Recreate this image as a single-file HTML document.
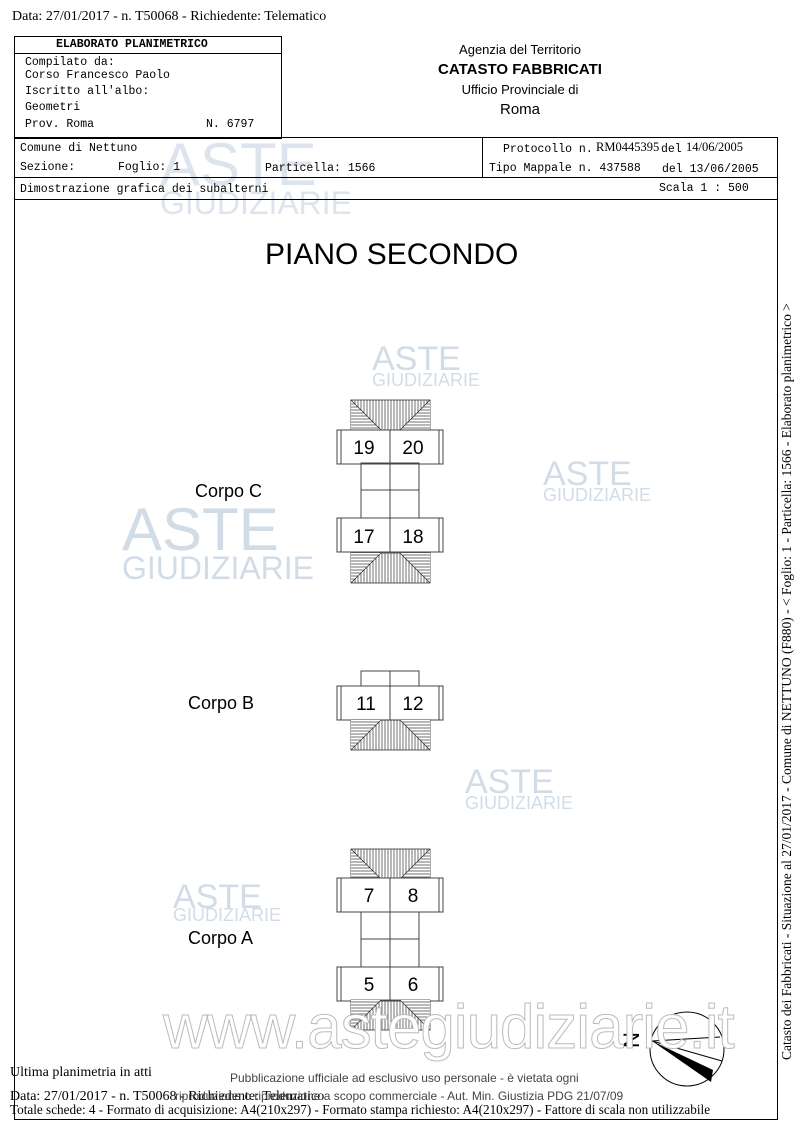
<!DOCTYPE html>
<html><head><meta charset="utf-8"><style>
body{margin:0;background:#fff;}
.p{position:relative;width:800px;height:1133px;overflow:hidden;font-family:"Liberation Serif",serif;color:#000;}
.a{position:absolute;white-space:nowrap;}
.m{font-family:"Liberation Mono",monospace;font-size:11.5px;}
.s{font-family:"Liberation Sans",sans-serif;}
.b{position:absolute;border:1.5px solid #000;box-sizing:border-box;}
.w{font-family:"Liberation Sans",sans-serif;color:#b5c5d8;opacity:.6;position:absolute;white-space:nowrap;}
</style></head><body><div class="p">
<div class="a" style="left:12px;top:9px;font-size:14px;">Data: 27/01/2017 - n. T50068 - Richiedente: Telematico</div>

<div class="w" style="left:160px;top:130px;font-size:60px;opacity:.45">ASTE</div>
<div class="w" style="left:160px;top:185px;font-size:32px;opacity:.45">GIUDIZIARIE</div>

<div class="b" style="left:14px;top:36px;width:268px;height:103px;"></div>
<div class="b" style="left:14px;top:36px;width:268px;height:18px;border-width:0 0 1.5px 0;"></div>
<div class="a m" style="left:56px;top:38px;font-weight:bold;">ELABORATO PLANIMETRICO</div>
<div class="a m" style="left:25px;top:56px;line-height:13px;">Compilato da:<br>Corso Francesco Paolo</div>
<div class="a m" style="left:25px;top:84px;line-height:16px;">Iscritto all'albo:<br>Geometri</div>
<div class="a m" style="left:25px;top:118px;">Prov. Roma</div>
<div class="a m" style="left:206px;top:118px;">N.  6797</div>

<div class="a s" style="left:400px;top:40px;width:240px;text-align:center;font-size:13px;line-height:20px;">Agenzia del Territorio<br><b style="font-size:15px">CATASTO FABBRICATI</b><br>Ufficio Provinciale di<br><span style="font-size:15px">Roma</span></div>

<div class="b" style="left:14px;top:137px;width:764px;height:983px;"></div>
<div style="position:absolute;left:14px;top:177px;width:764px;border-top:1.5px solid #000"></div>
<div style="position:absolute;left:14px;top:199px;width:764px;border-top:1.5px solid #000"></div>
<div style="position:absolute;left:482px;top:137px;height:41px;border-left:1.5px solid #000"></div>
<div class="a m" style="left:20px;top:142px;">Comune di Nettuno</div>
<div class="a m" style="left:20px;top:161px;">Sezione:</div>
<div class="a m" style="left:118px;top:161px;">Foglio: 1</div>
<div class="a m" style="left:265px;top:162px;">Particella: 1566</div>
<div class="a m" style="left:503px;top:143px;">Protocollo n.</div>
<div class="a" style="left:596px;top:140px;font-size:12.5px;">RM0445395</div>
<div class="a m" style="left:661px;top:143px;">del</div>
<div class="a" style="left:686px;top:140px;font-size:12.5px;">14/06/2005</div>
<div class="a m" style="left:489px;top:162px;">Tipo Mappale n. 437588</div>
<div class="a m" style="left:662px;top:163px;">del 13/06/2005</div>
<div class="a m" style="left:20px;top:183px;">Dimostrazione grafica dei subalterni</div>
<div class="a m" style="left:659px;top:182px;">Scala 1 : 500</div>

<div class="a" style="left:779px;top:1060px;transform:rotate(-90deg);transform-origin:0 0;font-size:13.5px;">Catasto dei Fabbricati - Situazione al 27/01/2017 - Comune di NETTUNO (F880) - &lt; Foglio: 1 - Particella: 1566 - Elaborato planimetrico &gt;</div>

<div class="a s" style="left:265px;top:238px;font-size:30px;">PIANO SECONDO</div>

<div class="w" style="left:372px;top:340px;font-size:34px;">ASTE</div>
<div class="w" style="left:372px;top:370px;font-size:18px;">GIUDIZIARIE</div>
<div class="w" style="left:122px;top:495px;font-size:60px;">ASTE</div>
<div class="w" style="left:122px;top:550px;font-size:32px;">GIUDIZIARIE</div>
<div class="w" style="left:543px;top:455px;font-size:34px;">ASTE</div>
<div class="w" style="left:543px;top:485px;font-size:18px;">GIUDIZIARIE</div>
<div class="w" style="left:465px;top:763px;font-size:34px;">ASTE</div>
<div class="w" style="left:465px;top:793px;font-size:18px;">GIUDIZIARIE</div>
<div class="w" style="left:173px;top:878px;font-size:34px;">ASTE</div>
<div class="w" style="left:173px;top:905px;font-size:18px;">GIUDIZIARIE</div>

<div class="a s" style="left:195px;top:481px;font-size:18px;">Corpo C</div>
<div class="a s" style="left:188px;top:693px;font-size:18px;">Corpo B</div>
<div class="a s" style="left:188px;top:928px;font-size:18px;">Corpo A</div>

<svg class="a" style="left:0;top:0" width="800" height="1133" viewBox="0 0 800 1133">
<defs>
<pattern id="v" width="3" height="3" patternUnits="userSpaceOnUse"><line x1="1" y1="0" x2="1" y2="3" stroke="#333" stroke-width="0.7"/></pattern>
<pattern id="h" width="3" height="3" patternUnits="userSpaceOnUse"><line x1="0" y1="1" x2="3" y2="1" stroke="#333" stroke-width="0.7"/></pattern>
<g id="roof"><rect x="0" y="0" width="79" height="30" fill="url(#v)" stroke="#333" stroke-width="0.8"/><polygon points="0,0 30,30 0,30" fill="#fff"/><polygon points="0,0 30,30 0,30" fill="url(#h)"/><polygon points="79,0 49,30 79,30" fill="#fff"/><polygon points="79,0 49,30 79,30" fill="url(#h)"/><line x1="0" y1="0" x2="30" y2="30" stroke="#333" stroke-width="0.8"/><line x1="79" y1="0" x2="49" y2="30" stroke="#333" stroke-width="0.8"/></g>
<g id="blk"><rect x="0" y="0" width="106" height="34" fill="#fff" stroke="#444"/><line x1="4" y1="0" x2="4" y2="34" stroke="#444"/><line x1="102" y1="0" x2="102" y2="34" stroke="#444"/><line x1="53" y1="0" x2="53" y2="34" stroke="#444"/></g>
<g id="cor"><rect x="0" y="0" width="58" height="55" fill="none" stroke="#444"/><line x1="29" y1="0" x2="29" y2="55" stroke="#444"/><line x1="0" y1="27" x2="58" y2="27" stroke="#444"/></g>
</defs>
<g font-family="Liberation Sans" font-size="19" text-anchor="middle">
<use href="#roof" x="351" y="400"/>
<use href="#blk" x="337" y="430"/><text x="364" y="454">19</text><text x="413" y="454">20</text>
<use href="#cor" x="361" y="463"/>
<use href="#blk" x="337" y="518"/><text x="364" y="543">17</text><text x="413" y="543">18</text>
<g transform="translate(351,583) scale(1,-1)"><use href="#roof"/></g>

<rect x="361" y="671" width="58" height="15" fill="none" stroke="#444"/><line x1="390" y1="671" x2="390" y2="686" stroke="#444"/>
<use href="#blk" x="337" y="686"/><text x="366" y="710">11</text><text x="413" y="710">12</text>
<g transform="translate(351,750) scale(1,-1)"><use href="#roof"/></g>

<use href="#roof" x="351" y="849"/>
<use href="#blk" x="337" y="878"/><text x="369" y="902">7</text><text x="413" y="902">8</text>
<use href="#cor" x="361" y="912"/>
<use href="#blk" x="337" y="967"/><text x="369" y="991">5</text><text x="413" y="991">6</text>
<g transform="translate(351,1030) scale(1,-1)"><use href="#roof"/></g>
</g>
<circle cx="687" cy="1049" r="37" fill="none" stroke="#000"/>
<line x1="652" y1="1041" x2="720" y2="1037" stroke="#000"/>
<polygon points="652,1041 713,1070 711,1082" fill="#000"/>
<line x1="652" y1="1041" x2="722" y2="1061" stroke="#000"/>
<text x="633" y="1040" font-family="Liberation Sans" font-size="22" text-anchor="middle" dominant-baseline="middle" transform="rotate(-90 633 1040)">N</text>
</svg>

<div class="a s" style="left:163px;top:992px;font-size:62px;color:#fff;-webkit-text-stroke:1px #bbb;letter-spacing:-1px">www.astegiudiziarie.it</div>

<div class="a" style="left:10px;top:1065px;font-size:14px;">Ultima planimetria in atti</div>
<div class="a s" style="left:230px;top:1071px;font-size:12px;color:#444">Pubblicazione ufficiale ad esclusivo uso personale - è vietata ogni</div>
<div class="a" style="left:10px;top:1089px;font-size:14px;">Data: 27/01/2017 - n. T50068 - Richiedente: Telematico</div>
<div class="a s" style="left:175px;top:1089px;font-size:12px;color:#444">riproduzione o riproduzione a scopo commerciale - Aut. Min. Giustizia PDG 21/07/09</div>
<div class="a" style="left:10px;top:1102px;font-size:13.2px;">Totale schede: 4 - Formato di acquisizione: A4(210x297)  - Formato stampa richiesto: A4(210x297) - Fattore di scala non utilizzabile</div>
</div></body></html>
